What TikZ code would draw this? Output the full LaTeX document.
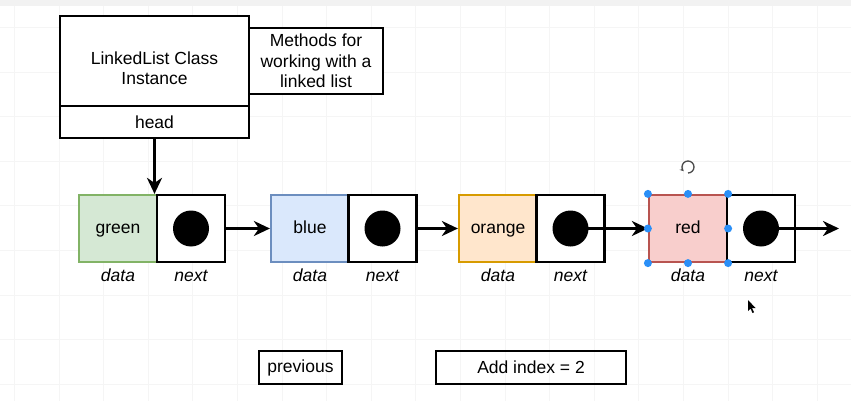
\documentclass[tikz,border=0pt]{standalone}
\usepackage{fontspec}
\setmainfont{Liberation Sans}
\usepackage{xcolor}
\usetikzlibrary{arrows.meta,positioning}

\definecolor{greenFill}{HTML}{D5E8D4}\definecolor{greenLine}{HTML}{82B366}
\definecolor{blueFill}{HTML}{DAE8FC}\definecolor{blueLine}{HTML}{6C8EBF}
\definecolor{orangeFill}{HTML}{FFE6CC}\definecolor{orangeLine}{HTML}{D79B00}
\definecolor{redFill}{HTML}{F8CECC}\definecolor{redLine}{HTML}{B85450}
\definecolor{handle}{HTML}{2A8FF7}

\newcommand{\diagfont}{\fontsize{17.5}{20.5}\selectfont}

\tikzset{
	box/.style={draw,line width=2.2pt,rectangle,inner sep=0pt,align=center},
	cell/.style={box,minimum width=78,minimum height=67,text height=12.5,text depth=3.5},
	ptr/.style={box,minimum width=68,minimum height=67,fill=white},
	dot/.style={circle,fill=black,minimum size=36,inner sep=0pt},
	link/.style={line width=3pt,-{Stealth[length=16pt,width=15pt,inset=5pt]}},
	lbl/.style={font=\diagfont\itshape,text height=12.5,text depth=3.5}
}

\begin{document}
\begin{tikzpicture}[x=1pt,y=-1pt,font=\diagfont]
	\useasboundingbox (0,0) rectangle (851,401);
	%\draw[help lines] (0,0) grid (851,401);
	\fill[white] (0,0) rectangle (851,401);
	\foreach \gx in {14.4,59,...,851}{\draw[black!4,line width=0.8pt] (\gx,6) -- (\gx,401);}
	\foreach \gy in {27.4,72,...,401}{\draw[black!4,line width=0.8pt] (0,\gy) -- (851,\gy);}
	\fill[black!5] (0,0) rectangle (851,6);
	
	\node[box,minimum width=189,minimum height=90,fill=white] (instance) at (154.5,61) {};
	\node[align=center] (instancetext) at (154.5,68) {LinkedList Class\\Instance};
	\node[box,minimum width=189,minimum height=32,fill=white] (head) at (154.5,122) {head};
	\node[box,minimum width=134,minimum height=66,fill=white] (methods) at (316,61) {Methods for\\working with a\\linked list};
	
	\foreach \c/\x/\nx in {green/118/191,blue/310/382.5,orange/498/570.5,red/688/761}{
		\node[cell,fill=\c Fill,draw=\c Line] (\c) at (\x,228.5) {\c};
		\node[ptr] (\c next) at (\nx,228.5) {};
		\node[dot] (\c dot) at (\c next) {};
		\node[lbl] (\c data) at (\x,277) {data};
		\node[lbl] (\c ptrlbl) at (\nx,277) {next};
	}
	
	\draw[link] (head.south) -- (head.south |- green.north);
	\draw[link] (greennext.east) -- (blue.west);
	\draw[link] (bluenext.east) -- (orange.west);
	\draw[link] (orangedot.center) -- (red.west);
	\coordinate (tail) at (839,228.5);
	\draw[link] (reddot.center) -- (tail);
	
	% selection handles
	\foreach \a in {north west,north,north east,west,east,south west,south,south east}{\fill[handle] (red.\a) circle (4);}
	\draw[black!70,line width=1.3pt,-{Stealth[length=4pt,width=4pt]}] (688,173) arc (90:-225:6);
	\fill[black] (748,300) -- (748,311) -- (750.5,308.5) -- (752.5,313) -- (754,312.3) -- (752,308) -- (755.5,308) -- cycle;
	
	\node[box,minimum width=83,minimum height=33] (previous) at (300.5,367.5) {previous};
	\node[box,minimum width=190,minimum height=33] (addindex) at (531,367.5) {Add index = 2};
\end{tikzpicture}
\end{document}
